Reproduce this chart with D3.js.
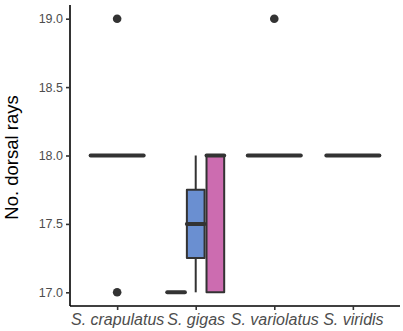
<!DOCTYPE html>
<html>
<head>
<meta charset="utf-8">
<script src="https://cdn.jsdelivr.net/npm/d3@7"></script>
<style>
  body { margin: 0; background: #fff; }
  text { font-family: "Liberation Sans", Arial, sans-serif; }
</style>
</head>
<body>
<div id="chart"></div>
<script>
//Datos
const species = ['S. crapulatus', 'S. gigas', 'S. variolatus', 'S. viridis'];
const yTicks = [17.0, 17.5, 18.0, 18.5, 19.0];

//Cajas: una por especie y grupo
const boxSpecies = ['S. crapulatus', 'S. gigas', 'S. gigas', 'S. gigas', 'S. variolatus', 'S. viridis'];
const boxGroup   = [0, 0, 1, 2, 0, 0];   // posicion dentro de la especie
const boxCount   = [1, 3, 3, 3, 1, 1];   // grupos en la especie
const boxFill    = ['#ffffff', '#ffffff', '#6A8FD1', '#CC6CB0', '#ffffff', '#ffffff'];
const lowWhisker = [18, 17, 17, 17, 18, 18];
const q1         = [18, 17, 17.25, 17, 18, 18];
const medianVal  = [18, 17, 17.5, 18, 18, 18];
const q3         = [18, 17, 17.75, 18, 18, 18];
const highWhisker= [18, 17, 18, 18, 18, 18];

//Outliers
const outSpecies = ['S. crapulatus', 'S. crapulatus', 'S. variolatus'];
const outValue   = [19, 17, 19];

const W = 403, H = 331;
const margin = {top: 5, right: 3, bottom: 25, left: 70};
const width = W - margin.left - margin.right,
      height = H - margin.top - margin.bottom;

const svg = d3.select('#chart').append('svg')
    .attr('width', W).attr('height', H)
  .append('g')
    .attr('transform', 'translate(' + margin.left + ',' + margin.top + ')');

const x = d3.scalePoint().domain(species).range([0, width]).padding(0.6);
const step = x.step();

const y = d3.scaleLinear().domain([16.9, 19.1]).range([height, 0]);

const INK = '#333333';

//Cajas
const boxes = d3.range(boxSpecies.length).map(i => {
    let dodgeW = 0.75 * step / boxCount[i];
    let cx = x(boxSpecies[i]) - 0.75 * step / 2 + dodgeW * (boxGroup[i] + 0.5);
    return {i: i, cx: cx, w: dodgeW * 0.9};
});

svg.selectAll('.whisker')
    .data(boxes)
    .enter().append('line')
    .attr('x1', d => d.cx).attr('x2', d => d.cx)
    .attr('y1', d => y(lowWhisker[d.i])).attr('y2', d => y(q1[d.i]))
    .attr('stroke', INK).attr('stroke-width', 2);

svg.selectAll('.whisker2')
    .data(boxes)
    .enter().append('line')
    .attr('x1', d => d.cx).attr('x2', d => d.cx)
    .attr('y1', d => y(q3[d.i])).attr('y2', d => y(highWhisker[d.i]))
    .attr('stroke', INK).attr('stroke-width', 2);

svg.selectAll('.box')
    .data(boxes)
    .enter().append('path')
    .attr('d', d => {
        let x0 = d.cx - d.w / 2, x1 = d.cx + d.w / 2;
        let yt = y(q3[d.i]), yb = y(q1[d.i]);
        return 'M' + x0 + ',' + yt + 'H' + x1 + 'V' + yb + 'H' + x0 + 'Z';
    })
    .attr('fill', d => boxFill[d.i])
    .attr('stroke', INK).attr('stroke-width', 2)
    .attr('stroke-linejoin', 'round');

svg.selectAll('.median')
    .data(boxes)
    .enter().append('line')
    .attr('x1', d => d.cx - d.w / 2).attr('x2', d => d.cx + d.w / 2)
    .attr('y1', d => y(medianVal[d.i])).attr('y2', d => y(medianVal[d.i]))
    .attr('stroke', INK).attr('stroke-width', 4)
    .attr('stroke-linecap', 'round');

//Outliers
svg.selectAll('.outlier')
    .data(outValue)
    .enter().append('circle')
    .attr('cx', (d, i) => x(outSpecies[i]))
    .attr('cy', d => y(d))
    .attr('r', 4.3)
    .attr('fill', INK);

//Ejes
const yAxis = svg.append('g')
    .call(d3.axisLeft(y).tickValues(yTicks).tickFormat(d3.format('.1f')).tickSize(4).tickPadding(3));
yAxis.select('.domain').attr('stroke', '#000').attr('stroke-width', 1.6).attr('d', 'M0,0V' + height);
yAxis.selectAll('.tick line').attr('stroke', INK).attr('stroke-width', 1.6);
yAxis.selectAll('.tick text').attr('fill', '#4D4D4D').style('font-size', '12.5px');

const xAxis = svg.append('g')
    .attr('transform', 'translate(0,' + height + ')')
    .call(d3.axisBottom(x).tickSize(4).tickPadding(4));
xAxis.select('.domain').attr('stroke', '#000').attr('stroke-width', 1.6).attr('d', 'M0,0H' + width);
xAxis.selectAll('.tick line').attr('stroke', INK).attr('stroke-width', 1.6);
xAxis.selectAll('.tick text').attr('fill', '#4D4D4D')
    .style('font-size', '16px').style('font-style', 'italic');

//Titulo eje y
svg.append('text')
    .attr('transform', 'translate(' + (-margin.left + 18) + ',' + (height / 2 + 2) + ') rotate(-90)')
    .attr('text-anchor', 'middle')
    .style('font-size', '18.5px')
    .attr('fill', '#000')
    .text('No. dorsal rays');
</script>
</body>
</html>
